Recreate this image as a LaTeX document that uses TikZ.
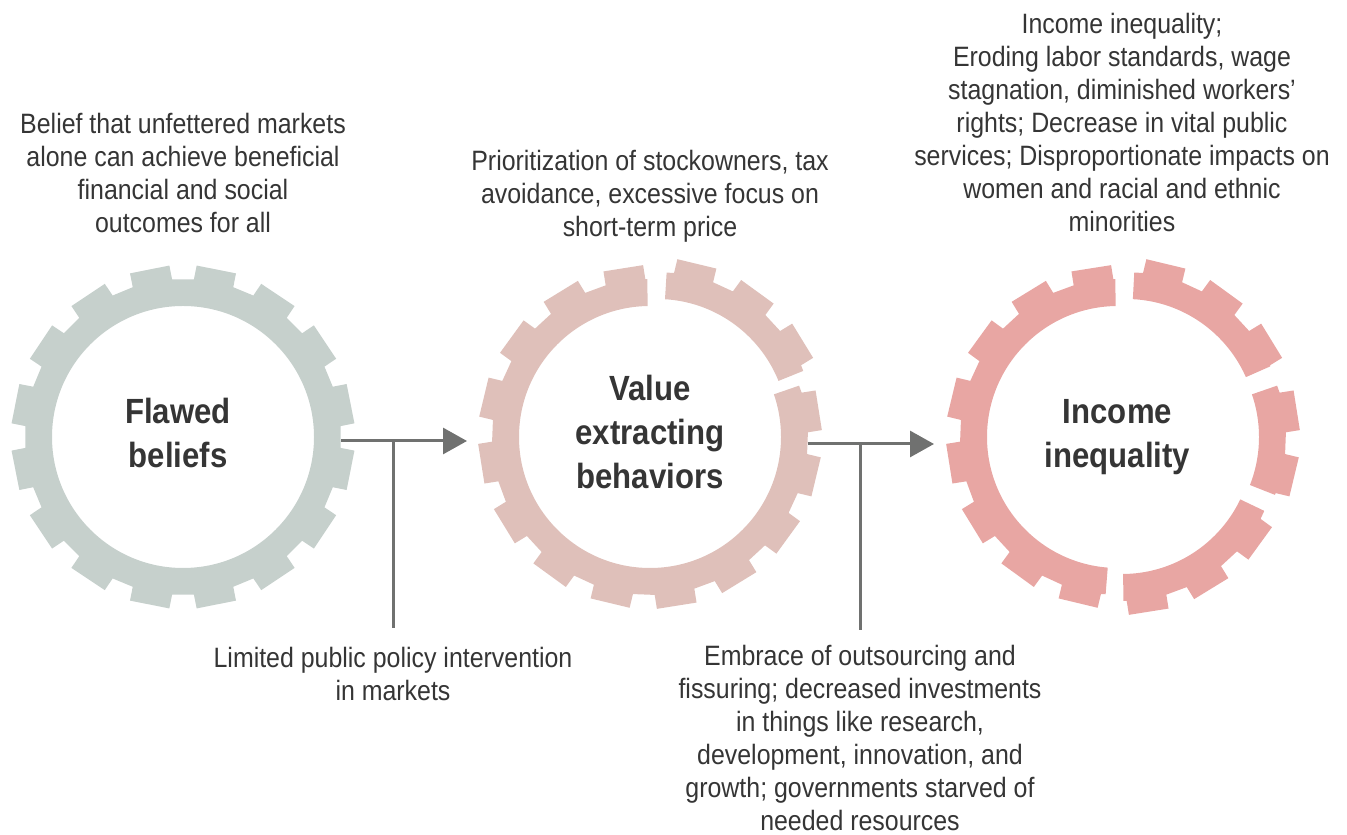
\documentclass[tikz,border=0pt]{standalone}
\usepackage{fontspec}
\setmainfont{Liberation Sans}[FakeStretch=0.89]
\usetikzlibrary{arrows.meta}

\definecolor{beliefgray}{HTML}{C6D0CC}
\definecolor{valuerose}{HTML}{DFC0BA}
\definecolor{incomered}{HTML}{E8A6A3}
\definecolor{linkgray}{HTML}{707170}
\definecolor{inkgray}{HTML}{353535}

\tikzset{
  note/.style={inner sep=0pt, align=center, text=inkgray, font=\fontsize{28}{33}\selectfont},
  title/.style={inner sep=0pt, align=center, text=inkgray, font=\bfseries\fontsize{35}{44}\selectfont},
  link/.style={draw=linkgray, line width=3pt, -{Triangle[length=24pt,width=26pt]}},
  stem/.style={draw=linkgray, line width=3pt},
}

% cog outline: 16 teeth round a ring with a hole
\newcommand\cogpath[1]{%
  (#1-7.3:158) \foreach \k in {0,...,15}{
    -- (#1+22.5*\k-7.3:158) -- (#1+22.5*\k-6.7:172)
    -- (#1+22.5*\k+6.7:172) -- (#1+22.5*\k+7.3:158)} -- cycle
  (0,0) circle[radius=131pt]}

% broken-off piece of a cog: colour, tooth offset, from, to, shift
\newcommand\cogpiece[5]{%
  \begin{scope}[shift={#5}]
    \clip (0,0) -- (#3:260) arc[start angle=#3, end angle=#4, radius=260pt] -- cycle;
    \fill[#1, even odd rule] \cogpath{#2};
  \end{scope}}

\begin{document}
\begin{tikzpicture}[x=1pt,y=1pt]
  \useasboundingbox (0,0) rectangle (1347,835);

  %Gear centres
  \coordinate (beliefs) at (183,398);
  \coordinate (value)   at (650,398);
  \coordinate (income)  at (1118,398);

  %Gears
  \begin{scope}[shift={(beliefs)}]
    \fill[beliefgray, even odd rule] \cogpath{11.25};
  \end{scope}
  \begin{scope}[shift={(value)}]
    \cogpiece{valuerose}{9}{91}{379}{(0,0)}
    \cogpiece{valuerose}{9}{22}{86.5}{(7,7)}
  \end{scope}
  \begin{scope}[shift={(income)}]
    \cogpiece{incomered}{9}{91}{265.5}{(0,0)}
    \cogpiece{incomered}{9}{270.5}{334.5}{(4,-6)}
    \cogpiece{incomered}{9}{338.5}{379}{(10,0)}
    \cogpiece{incomered}{9}{23.8}{87}{(8,7)}
  \end{scope}

  %Titles
  \node[title] (flawed)     at (178,402.5)  {Flawed\\beliefs};
  \node[title] (extracting) at (650,403.5)  {Value\\extracting\\behaviors};
  \node[title] (inequality) at (1117.5,398) {Income\\inequality};

  %Notes
  \node[note, anchor=north] (belief) at (183,722)
    {Belief that unfettered markets\\alone can achieve beneficial\\financial and social\\outcomes for all};
  \node[note, anchor=north] (priority) at (650,685)
    {Prioritization of stockowners, tax\\avoidance, excessive focus on\\short-term price};
  \node[note, anchor=north] (harms) at (1122,822)
    {Income inequality;\\Eroding labor standards, wage\\stagnation, diminished workers’\\rights; Decrease in vital public\\services; Disproportionate impacts on\\women and racial and ethnic\\minorities};
  \node[note, anchor=north] (policy) at (393,188)
    {Limited public policy intervention\\in markets};
  \node[note, anchor=north] (outsourcing) at (860,190)
    {Embrace of outsourcing and\\fissuring; decreased investments\\in things like research,\\development, innovation, and\\growth; governments starved of\\needed resources};

  %Connectors
  \coordinate (beliefs-out)     at (341,394);
  \coordinate (value-in)        at (467,394);
  \coordinate (policy-tap)      at (393,394);
  \coordinate (value-out)       at (808,391);
  \coordinate (income-in)       at (934,391);
  \coordinate (outsourcing-tap) at (860,391);

  \draw[link] (beliefs-out) -- (value-in);
  \draw[link] (value-out) -- (income-in);
  \draw[stem, shorten >=19pt] (policy-tap) -- (policy.north);
  \draw[stem, shorten >=15pt] (outsourcing-tap) -- (outsourcing.north);
\end{tikzpicture}
\end{document}
